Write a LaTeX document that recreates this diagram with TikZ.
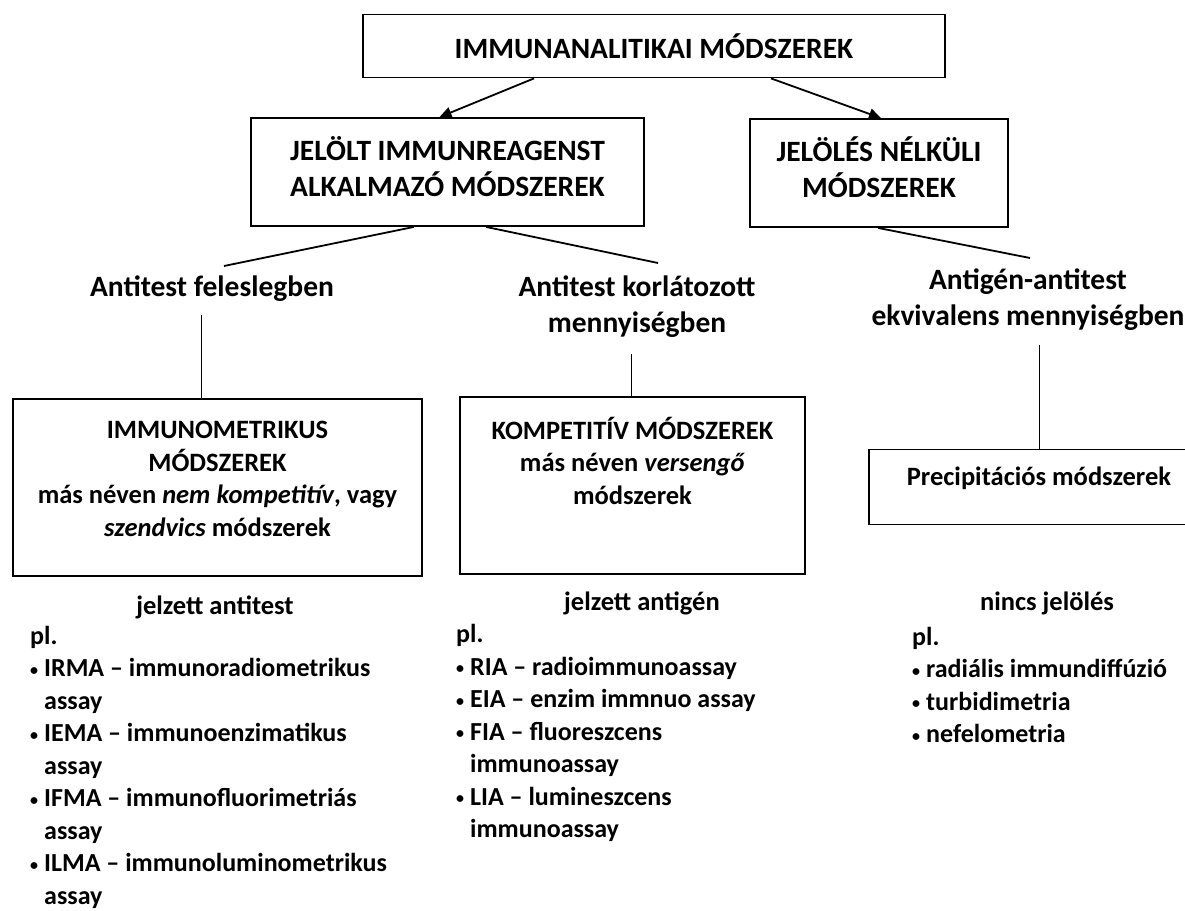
\documentclass[tikz,border=0pt]{standalone}
\usepackage{fontspec}
\setmainfont{Carlito}
\usetikzlibrary{arrows.meta}
\newcommand{\bul}{\raisebox{1.5pt}{\fontsize{16}{16}\selectfont •}\hspace{6pt}}
\newcommand{\hang}{\hphantom{\bul}}
\tikzset{
  box/.style={draw, line width=1.8pt, inner sep=0pt},
  head/.style={font=\bfseries\fontsize{29.5}{36}\selectfont, align=center, inner sep=0pt},
  txt/.style={font=\bfseries\fontsize{26.5}{32.5}\selectfont, align=center, inner sep=0pt},
  list/.style={font=\bfseries\fontsize{26}{32.5}\selectfont, align=left, inner sep=0pt, anchor=west},
  link/.style={line width=1.8pt},
  arrow/.style={line width=1.8pt, -{Triangle[length=12pt,width=11pt]}},
  stem/.style={line width=1pt}
}
\begin{document}
\begin{tikzpicture}[x=1pt,y=-1pt]
    \useasboundingbox (0,0) rectangle (1185,910);

    % Draw the boxes at the top
    \node[box, head, minimum width=582pt, minimum height=63pt] (top) at (654,46) {IMMUNANALITIKAI MÓDSZEREK};
    \node[box, minimum width=393pt, minimum height=108pt] (jel) at (447.5,172) {};
    \node[box, minimum width=258pt, minimum height=108pt] (nel) at (879,173) {};
    \node[head] (jeltxt) at (447.5,167) {JELÖLT IMMUNREAGENST\\ALKALMAZÓ MÓDSZEREK};
    \node[head] (neltxt) at (879,167.5) {JELÖLÉS NÉLKÜLI\\MÓDSZEREK};

    % Arrows from the main box
    \draw[arrow] ([xshift=-120pt]top.south) -- ([xshift=-8pt]jel.north);
    \draw[arrow] ([xshift=117pt]top.south) -- ([xshift=2pt]nel.north);

    % Branch labels
    \node[head] (exc) at (212,289) {Antitest feleslegben};
    \node[head] (kor) at (637,307) {Antitest korlátozott\\mennyiségben};
    \node[head] (ekv) at (1028,300) {Antigén-antitest\\ekvivalens mennyiségben};

    % Lines down to the branch labels
    \coordinate (e1) at (224,266);
    \coordinate (e2) at (658,263);
    \coordinate (e3) at (1030,258);
    \draw[link] ([xshift=-33.5pt]jel.south) -- (e1);
    \draw[link] ([xshift=38.5pt]jel.south) -- (e2);
    \draw[link] ([xshift=-1pt]nel.south) -- (e3);

    % Method boxes
    \node[box, minimum width=409pt, minimum height=177pt] (imm) at (217.5,487.5) {};
    \node[box, minimum width=345pt, minimum height=177pt] (komp) at (632.5,485.5) {};
    \node[box, minimum width=321pt, minimum height=75pt] (prec) at (1029.5,487) {};
    \node[txt] (immtxt) at (217.5,479) {IMMUNOMETRIKUS\\MÓDSZEREK\\más néven \textit{nem kompetitív}, vagy\\\textit{szendvics} módszerek};
    \node[txt] (komptxt) at (632.5,460.5) {KOMPETITÍV MÓDSZEREK\\más néven \textit{versengő}\\módszerek};
    \node[txt] (prectxt) at (1039,478) {Precipitációs módszerek};

    % Stems from labels to boxes
    \coordinate (v1) at (201,315);
    \coordinate (v2) at (631,354);
    \coordinate (v3) at (1039,345);
    \draw[stem] (v1) -- (v1 |- imm.north);
    \draw[stem] (v2) -- (v2 |- komp.north);
    \draw[stem] (v3) -- (v3 |- prec.north);

    % Labelling and examples
    \node[txt] (antitest) at (215,607) {jelzett antitest};
    \node[txt] (antigen) at (642,603) {jelzett antigén};
    \node[txt] (nincs) at (1047,603) {nincs jelölés};
    \node[list] (lst1) at (30,767) {pl.\\\bul IRMA – immunoradiometrikus\\\hang assay\\\bul IEMA – immunoenzimatikus\\\hang assay\\\bul IFMA – immunofluorimetriás\\\hang assay\\\bul ILMA – immunoluminometrikus\\\hang assay};
    \node[list] (lst2) at (456,733) {pl.\\\bul RIA – radioimmunoassay\\\bul EIA – enzim immnuo assay\\\bul FIA – fluoreszcens\\\hang immunoassay\\\bul LIA – lumineszcens\\\hang immunoassay};
    \node[list] (lst3) at (912,685) {pl.\\\bul radiális immundiffúzió\\\bul turbidimetria\\\bul nefelometria};
\end{tikzpicture}
\end{document}
